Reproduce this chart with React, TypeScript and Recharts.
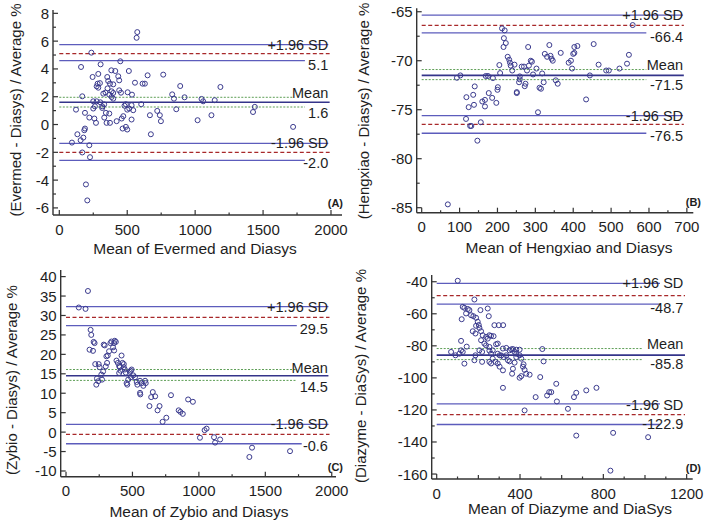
import React from "react";
import { ReferenceLine, Scatter, ScatterChart, XAxis, YAxis } from "recharts";

type Pt = [number, number];

// ---- (A) Evermed vs Diasys ----
const EVERMED_POINTS: Pt[] = [
  [574, 6.65], [569, 6.24], [236, 5.17], [160, 4.14], [304, 4.33], [449, 4.55],
  [245, 3.42], [287, 3.64], [383, 3.9], [412, 3.85], [512, 3.85], [434, 3.47],
  [441, 3.18], [353, 3.42], [650, 3.54], [765, 3.59], [557, 3.01], [613, 2.94],
  [630, 2.94], [282, 2.94], [299, 2.98], [275, 2.75], [287, 2.65], [360, 3.13],
  [373, 2.94], [397, 2.89], [385, 2.39], [397, 2.27], [441, 2.46], [454, 2.29],
  [503, 2.32], [535, 2.15], [169, 2.03], [324, 2.22], [368, 2.15], [385, 1.98],
  [397, 1.86], [250, 1.67], [275, 1.67], [262, 1.31], [250, 1.15], [316, 1.31],
  [316, 1.19], [123, 1.07], [189, 0.84], [221, 0.5], [258, 0.43], [270, 0.12],
  [343, 0.84], [368, 0.79], [331, 0.5], [348, 0.12], [373, 0.12], [422, 0.24],
  [471, 0.6], [459, 0.43], [466, -0.29], [490, -0.17], [500, -0.36], [532, 0.36],
  [490, 1.46], [500, 1.07], [532, 1.39], [544, 1.03], [603, 1.46], [667, 0.67],
  [674, -0.7], [721, 0.98], [740, 0.67], [748, 0.24], [831, 2.17], [844, 1.86],
  [861, 1.1], [890, 2.77], [922, 1.96], [1018, 0.31], [1047, 1.84], [1059, 1.67],
  [1120, 0.67], [1144, 1.75], [1186, 2.7], [1426, 0.9], [1439, 1.27], [1721, -0.17],
  [93, -1.3], [133, -0.7], [157, -1.13], [177, -0.94], [184, -0.41], [189, -0.29],
  [169, -2.01], [221, -1.49], [226, -2.35], [196, -4.31], [206, -5.46],
  [302, 1.6], [330, 1.45], [340, 2.3], [355, 2.6], [480, 1.35], [515, 1.15],
];
const EVERMED_LINES = [5.75, 5.1, 4.6, 1.96, 1.6, 1.26, -1.36, -2.0, -2.58];
const EVERMED_LINE_ENDS = [1980, 1990, 1808, 1720, 1990, 1808, 1980, 1990, 1808];
const EVERMED_VALUES = ["5.1", "1.6", "-2.0"];
const EVERMED_X_TICKS = [0, 500, 1000, 1500, 2000];
const EVERMED_Y_TICKS = [-6, -4, -2, 0, 2, 4, 6, 8];

// ---- (B) Hengxiao vs Diasys ----
const HENGXIAO_POINTS: Pt[] = [
  [69, -84.66], [147, -78.16], [117, -75.94], [124, -74.74], [128, -76.66], [131, -76.66],
  [118, -73.72], [136, -73.48], [138, -74.5], [140, -72.62], [156, -76.28], [160, -74.16],
  [167, -74.0], [167, -74.67], [177, -73.3], [186, -73.79], [197, -74.3], [200, -72.97],
  [201, -72.7], [205, -70.44], [207, -71.26], [169, -71.56], [175, -71.56], [188, -71.77],
  [93, -71.74], [102, -71.5], [212, -66.7], [219, -66.9], [217, -67.7], [222, -68.2],
  [216, -68.6], [227, -69.6], [231, -69.9], [233, -70.2], [235, -70.5], [239, -71.0],
  [245, -70.4], [251, -73.2], [251, -73.3], [259, -71.9], [259, -71.6], [257, -72.2],
  [264, -70.6], [270, -70.6], [274, -72.35], [272, -72.6], [281, -68.6], [278, -71.0],
  [283, -70.5], [288, -70.0], [291, -70.1], [294, -71.4], [303, -70.8],
  [307, -75.26], [311, -72.76], [315, -72.86], [318, -71.3], [322, -72.2], [325, -69.3],
  [331, -69.6], [337, -68.4], [340, -69.5], [343, -69.8], [346, -70.0], [354, -72.0],
  [359, -72.35], [367, -69.2], [388, -70.2], [394, -70.0], [397, -70.8], [400, -69.3],
  [403, -68.6], [403, -69.2], [411, -68.5], [434, -73.95], [444, -71.5], [454, -68.3],
  [467, -70.4], [487, -71.0], [494, -71.0], [522, -70.8], [542, -70.3], [547, -69.4],
  [557, -66.36],
];
const HENGXIAO_LINES = [-65.34, -66.4, -67.15, -70.9, -71.5, -71.93, -75.6, -76.5, -77.4];
const HENGXIAO_LINE_ENDS = [690, 692, 593, 593, 692, 593, 690, 692, 593];
const HENGXIAO_VALUES = ["-66.4", "-71.5", "-76.5"];
const HENGXIAO_X_TICKS = [0, 100, 200, 300, 400, 500, 600, 700];
const HENGXIAO_Y_TICKS = [-85, -80, -75, -70, -65];

// ---- (C) Zybio vs Diasys ----
const ZYBIO_POINTS: Pt[] = [
  [96, 32.05], [147, 31.7], [165, 36.3], [185, 26.3], [190, 25.0], [208, 23.2],
  [215, 22.9], [177, 21.2], [203, 20.9], [220, 17.5], [246, 17.5], [253, 16.7],
  [233, 13.8], [228, 12.2], [243, 13.1], [266, 14.8], [271, 13.5], [279, 15.6],
  [284, 22.5], [291, 22.3], [299, 16.9], [309, 17.8], [304, 19.5], [314, 19.7],
  [324, 20.8], [334, 22.9], [342, 23.3], [354, 21.8], [362, 22.9], [367, 23.5],
  [375, 23.2], [362, 21.0], [380, 18.4], [390, 17.8], [400, 17.0], [405, 16.7],
  [410, 15.8], [400, 15.2], [418, 19.7], [425, 17.8], [435, 17.5], [435, 16.7],
  [443, 16.1], [450, 15.3], [456, 12.6], [461, 12.2], [468, 13.5], [480, 15.5],
  [487, 15.8], [494, 16.1], [489, 14.1], [506, 14.6], [519, 14.1], [532, 12.9],
  [537, 12.2], [557, 13.2], [570, 12.6], [582, 11.9], [557, 10.1], [559, 9.7],
  [595, 13.2], [600, 12.6], [628, 6.7], [641, 9.0], [653, 10.3], [671, 9.2],
  [689, 5.6], [704, 6.7], [727, 2.65], [755, 3.7], [790, 9.5], [848, 5.6],
  [861, 5.2], [879, 4.7], [919, 8.4], [955, 7.8], [1008, -1.45], [1043, 0.5],
  [1058, 0.9], [1114, -1.3], [1122, -2.7], [1160, -1.9], [1380, -6.4], [1400, -4.0],
  [1686, -4.9],
];
const ZYBIO_LINES = [32.3, 29.5, 27.4, 16.1, 14.5, 13.3, 2.0, -0.6, -3.0];
const ZYBIO_LINE_ENDS = [1975, 1983, 1737, 1737, 1975, 1737, 1975, 1983, 1774];
const ZYBIO_VALUES = ["29.5", "14.5", "-0.6"];
const ZYBIO_X_TICKS = [0, 500, 1000, 1500, 2000];
const ZYBIO_Y_TICKS = [-10, -5, 0, 5, 10, 15, 20, 25, 30, 35, 40];

// ---- (D) Diazyme vs DiaSys ----
const DIAZYME_POINTS: Pt[] = [
  [101, -39.4], [181, -51.1], [125, -55.7], [133, -56.3], [149, -57.0], [141, -59.8],
  [157, -57.7], [120, -63.4], [165, -60.9], [176, -61.5], [189, -62.5], [197, -65.0],
  [202, -67.0], [205, -68.8], [210, -57.7], [245, -56.7], [250, -61.5], [173, -70.9],
  [186, -72.3], [189, -67.5], [213, -70.9], [221, -73.4], [237, -74.4], [245, -75.5],
  [253, -73.4], [261, -73.8], [273, -74.0], [277, -67.1], [298, -67.1], [319, -67.1],
  [285, -79.0], [293, -78.6], [253, -80.7], [117, -76.9], [144, -80.5], [213, -76.5],
  [229, -78.6], [237, -79.7], [205, -82.8], [218, -83.8], [186, -85.9], [253, -83.0],
  [261, -84.9], [269, -82.8], [293, -84.9], [302, -85.9], [318, -81.7], [334, -81.3],
  [350, -82.8], [310, -86.0], [321, -87.0], [334, -85.9], [342, -89.0], [350, -89.7],
  [366, -82.0], [374, -83.8], [382, -82.4], [382, -85.0], [382, -87.0], [374, -90.5],
  [366, -94.3], [362, -97.4], [358, -82.2], [302, -93.0], [318, -95.3], [269, -88.0],
  [282, -90.0], [293, -91.0], [253, -90.0], [261, -91.0], [181, -89.0], [218, -90.0],
  [133, -91.1], [109, -84.9], [69, -83.8], [90, -85.9], [117, -82.8], [125, -83.8],
  [318, -106.2], [398, -82.4], [398, -85.9], [406, -88.0], [414, -93.0], [422, -95.0],
  [430, -97.4], [398, -99.9], [406, -98.9], [446, -98.0], [417, -91.5], [422, -120.3],
  [497, -99.5], [507, -82.0], [513, -89.7], [475, -112.0], [530, -111.0], [540, -108.9],
  [550, -108.9], [574, -103.7], [577, -114.7], [630, -119.3], [659, -112.0], [670, -109.3],
  [718, -107.8], [767, -106.2], [670, -136.0], [847, -134.3], [1015, -137.0], [834, -157.9],
];
const DIAZYME_LINES = [-41.0, -48.7, -54.0, -81.7, -85.8, -88.6, -116.2, -122.9, -129.1];
const DIAZYME_LINE_ENDS = [1072, 1192, 1072, 990, 1192, 990, 1072, 1192, 1072];
const DIAZYME_VALUES = ["-48.7", "-85.8", "-122.9"];
const DIAZYME_X_TICKS = [0, 400, 800, 1200];
const DIAZYME_Y_TICKS = [-160, -140, -120, -100, -80, -60, -40];

const FONT = '"Liberation Sans", Arial, sans-serif';
const INK = "#1e1e1e";
const DOT = "#3b3b8e";
const CI_BLUE = "#5c5cbc";
const MEAN_BLUE = "#34348a";
const RED = "#a8282a";
const GREEN = "#5d9e55";

type PanelCfg = {
  letter: string;
  left: number;
  top: number;
  width: number;
  height: number;
  margin: { top: number; right: number; left: number; bottom: number };
  xDomain: [number, number];
  yDomain: [number, number];
  xTicks: number[];
  yTicks: number[];
  xMinor: number;
  yMinor: number;
  points: Pt[];
  lines: number[];
  lineEnds: number[];
  values: string[];
  labelX: number;
  labelDy: number[];
  xTitle: string;
  yTitle: string;
  xTitlePos: [number, number];
  yTitlePos: [number, number];
  letterPos: [number, number];
};

function withMinor(major: number[], step: number) {
  const out: number[] = [];
  const lo = major[0];
  const hi = major[major.length - 1];
  for (let v = lo; v <= hi + 1e-9; v += step) out.push(Math.round(v * 1000) / 1000);
  return out;
}

const isMajor = (list: number[], v: number) => list.some((m) => Math.abs(m - v) < 1e-6);

const PANELS: PanelCfg[] = [
  {
    letter: "(A)", left: 0, top: 0, width: 355, height: 260,
    margin: { top: 10, right: 13, left: 11, bottom: 15 },
    xDomain: [-46.4, 2081], yDomain: [-6.51, 8.24],
    xTicks: EVERMED_X_TICKS, yTicks: EVERMED_Y_TICKS, xMinor: 250, yMinor: 1,
    points: EVERMED_POINTS, lines: EVERMED_LINES, lineEnds: EVERMED_LINE_ENDS,
    values: EVERMED_VALUES, labelX: 1980, labelDy: [0, 11, -9, 11, 0, 11],
    xTitle: "Mean of Evermed and Diasys", yTitle: "(Evermed - Diasys) / Average %",
    xTitlePos: [195, 249], yTitlePos: [16, 110], letterPos: [343, 203],
  },
  {
    letter: "(B)", left: 355, top: 0, width: 354, height: 260,
    margin: { top: 8.3, right: 15.7, left: 19.7, bottom: 17.3 },
    xDomain: [-13.2, 717], yDomain: [-85.51, -64.65],
    xTicks: HENGXIAO_X_TICKS, yTicks: HENGXIAO_Y_TICKS, xMinor: 50, yMinor: 2.5,
    points: HENGXIAO_POINTS, lines: HENGXIAO_LINES, lineEnds: HENGXIAO_LINE_ENDS,
    values: HENGXIAO_VALUES, labelX: 690, labelDy: [0, 12, -10, 10, 0, 12],
    xTitle: "Mean of Hengxiao and Diasys", yTitle: "(Hengxiao - Diasys) / Average %",
    xTitlePos: [569, 248], yTitlePos: [364, 111], letterPos: [701, 202],
  },
  {
    letter: "(C)", left: 0, top: 263, width: 355, height: 263,
    margin: { top: 7, right: 19, left: 18.7, bottom: 19.3 },
    xDomain: [-40, 2032], yDomain: [-11.47, 41.7],
    xTicks: ZYBIO_X_TICKS, yTicks: ZYBIO_Y_TICKS, xMinor: 250, yMinor: 5,
    points: ZYBIO_POINTS, lines: ZYBIO_LINES, lineEnds: ZYBIO_LINE_ENDS,
    values: ZYBIO_VALUES, labelX: 1971, labelDy: [0, 12, -8, 11, 0, 12],
    xTitle: "Mean of Zybio and Diasys", yTitle: "(Zybio - Diasys) / Average %",
    xTitlePos: [199, 512], yTitlePos: [12, 380], letterPos: [343, 467],
  },
  {
    letter: "(D)", left: 355, top: 263, width: 354, height: 263,
    margin: { top: 12, right: 16.3, left: 34.7, bottom: 17 },
    xDomain: [-24, 1229], yDomain: [-163.1, -35.8],
    xTicks: DIAZYME_X_TICKS, yTicks: DIAZYME_Y_TICKS, xMinor: 100, yMinor: 10,
    points: DIAZYME_POINTS, lines: DIAZYME_LINES, lineEnds: DIAZYME_LINE_ENDS,
    values: DIAZYME_VALUES, labelX: 1184, labelDy: [0, 12, -11, 9, 1, 9],
    xTitle: "Mean of Diazyme and DiaSys", yTitle: "(Diazyme - DiaSys) / Average %",
    xTitlePos: [570, 509], yTitlePos: [361, 376], letterPos: [701, 468],
  },
];

function lineStyle(i: number) {
  if (i === 1 || i === 7) return { stroke: RED, strokeWidth: 1.3, strokeDasharray: "4 2.5" };
  if (i === 3 || i === 5) return { stroke: GREEN, strokeWidth: 1, strokeDasharray: "2 1.5" };
  if (i === 4) return { stroke: MEAN_BLUE, strokeWidth: 1.6 };
  return { stroke: CI_BLUE, strokeWidth: 1.3 };
}

function Panel({ cfg }: { cfg: PanelCfg }) {
  const data = cfg.points.map(([x, y]) => ({ x, y }));
  const [v1, v2, v3] = cfg.values;
  const labels = [
    { x: cfg.labelX, y: cfg.lines[0], text: "+1.96 SD", dy: cfg.labelDy[0] },
    { x: cfg.labelX, y: cfg.lines[1], text: v1, dy: cfg.labelDy[1] },
    { x: cfg.labelX, y: cfg.lines[4], text: "Mean", dy: cfg.labelDy[2] },
    { x: cfg.labelX, y: cfg.lines[4], text: v2, dy: cfg.labelDy[3] },
    { x: cfg.labelX, y: cfg.lines[6], text: "-1.96 SD", dy: cfg.labelDy[4] },
    { x: cfg.labelX, y: cfg.lines[7], text: v3, dy: cfg.labelDy[5] },
  ];
  const xAll = withMinor(cfg.xTicks, cfg.xMinor);
  const yAll = withMinor(cfg.yTicks, cfg.yMinor);

  const xTick = (p: any) => {
    const v = p.payload.value;
    const major = isMajor(cfg.xTicks, v);
    const mid = !major && Math.abs((v / (cfg.xMinor * 2)) % 1) < 1e-6;
    const len = major ? 5 : mid ? 4 : 2.5;
    return (
      <g>
        <line x1={p.x} x2={p.x} y1={p.y} y2={p.y - len} stroke="#333" strokeWidth={1.2} />
        {major && (
          <text x={p.x} y={p.y + 14} textAnchor="middle" dominantBaseline="central"
            fontSize={15} fontFamily={FONT} fill={INK}>{v}</text>
        )}
      </g>
    );
  };
  const yTick = (p: any) => {
    const v = p.payload.value;
    const major = isMajor(cfg.yTicks, v);
    const len = major ? 5 : 3;
    return (
      <g>
        <line x1={p.x} x2={p.x + len} y1={p.y} y2={p.y} stroke="#333" strokeWidth={1.2} />
        {major && (
          <text x={p.x - 4} y={p.y} textAnchor="end" dominantBaseline="central"
            fontSize={15} fontFamily={FONT} fill={INK}>{v}</text>
        )}
      </g>
    );
  };

  return (
    <div style={{ position: "absolute", left: cfg.left, top: cfg.top, width: cfg.width, height: cfg.height }}>
      <ScatterChart width={cfg.width} height={cfg.height} margin={cfg.margin}>
        <XAxis type="number" dataKey="x" domain={cfg.xDomain} allowDataOverflow
          ticks={xAll} interval={0} tickSize={0} tickMargin={0} tickLine={false}
          tick={xTick} height={30} axisLine={{ stroke: "#333", strokeWidth: 1.4 }} />
        <YAxis type="number" dataKey="y" domain={cfg.yDomain} allowDataOverflow
          ticks={yAll} interval={0} tickSize={0} tickMargin={0} tickLine={false}
          tick={yTick} width={42} axisLine={{ stroke: "#333", strokeWidth: 1.4 }} />
        {cfg.lines.map((y, i) => (
          <ReferenceLine key={i}
            segment={[{ x: 0, y }, { x: cfg.lineEnds[i], y }]}
            {...lineStyle(i)} />
        ))}
        <Scatter data={data} isAnimationActive={false}
          shape={(p: any) => (
            <circle cx={p.cx} cy={p.cy} r={2.5} fill="#fff" fillOpacity={0}
              stroke={DOT} strokeWidth={1} />
          )} />
        <Scatter data={labels} isAnimationActive={false}
          shape={(p: any) => (
            <text x={p.cx} y={p.cy + p.payload.dy} textAnchor="end" dominantBaseline="central"
              fontSize={14.5} fontFamily={FONT} fill={INK}>{p.payload.text}</text>
          )} />
      </ScatterChart>
    </div>
  );
}

const titleStyle: React.CSSProperties = {
  position: "absolute",
  fontFamily: FONT,
  color: INK,
  lineHeight: "16px",
  whiteSpace: "nowrap",
  textAlign: "center",
  width: 260,
};

export default function App() {
  return (
    <div style={{ position: "absolute", left: 0, top: 0, width: 709, height: 526, background: "#fff", overflow: "hidden" }}>
      {PANELS.map((cfg) => (
        <Panel key={cfg.letter} cfg={cfg} />
      ))}
      {PANELS.map((cfg) => (
        <React.Fragment key={cfg.letter + "t"}>
          <div style={{ ...titleStyle, fontSize: 15.5, left: cfg.xTitlePos[0] - 130, top: cfg.xTitlePos[1] - 8 }}>
            {cfg.xTitle}
          </div>
          <div style={{ ...titleStyle, fontSize: 15, left: cfg.yTitlePos[0] - 130, top: cfg.yTitlePos[1] - 8, transform: "rotate(-90deg)" }}>
            {cfg.yTitle}
          </div>
          <div style={{ position: "absolute", right: 709 - cfg.letterPos[0], top: cfg.letterPos[1] - 7,
            fontFamily: FONT, fontSize: 11, fontWeight: 700, color: INK, lineHeight: "14px" }}>
            {cfg.letter}
          </div>
        </React.Fragment>
      ))}
    </div>
  );
}
